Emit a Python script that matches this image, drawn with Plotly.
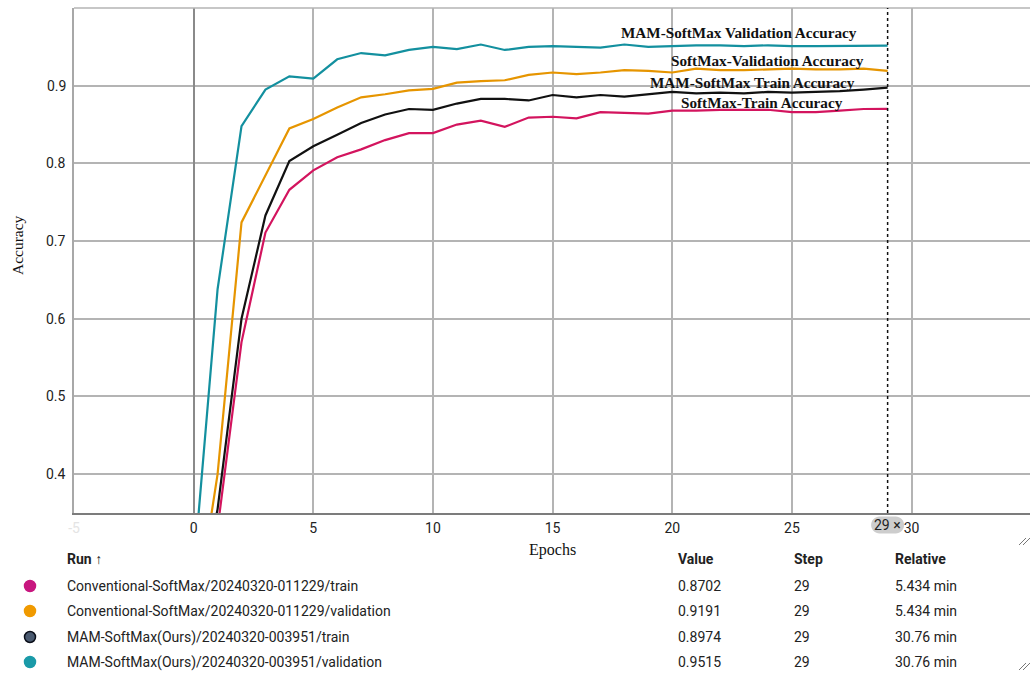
import plotly.graph_objects as go

# ---- data -------------------------------------------------------------
epochs = list(range(30))

conv_train = [0.18, 0.33, 0.570, 0.711, 0.766, 0.791, 0.808, 0.818, 0.830, 0.839,
              0.839, 0.850, 0.855, 0.847, 0.859, 0.860, 0.858, 0.866, 0.865, 0.864,
              0.868, 0.868, 0.869, 0.869, 0.869, 0.866, 0.866, 0.868, 0.870, 0.8702]
conv_val = [0.20, 0.40, 0.724, 0.785, 0.845, 0.857, 0.872, 0.885, 0.889, 0.894,
            0.896, 0.904, 0.906, 0.907, 0.914, 0.917, 0.915, 0.917, 0.920, 0.919,
            0.917, 0.922, 0.920, 0.920, 0.921, 0.922, 0.921, 0.921, 0.922, 0.9191]
mam_train = [0.20, 0.355, 0.600, 0.733, 0.803, 0.822, 0.837, 0.852, 0.863, 0.870,
             0.869, 0.877, 0.883, 0.883, 0.881, 0.888, 0.885, 0.888, 0.886, 0.889,
             0.892, 0.890, 0.891, 0.890, 0.892, 0.891, 0.892, 0.893, 0.895, 0.8974]
mam_val = [0.274, 0.638, 0.848, 0.895, 0.912, 0.909, 0.934, 0.942, 0.939, 0.946,
           0.950, 0.947, 0.953, 0.946, 0.950, 0.951, 0.950, 0.949, 0.953, 0.950,
           0.951, 0.952, 0.952, 0.951, 0.952, 0.951, 0.951, 0.951, 0.951, 0.9515]

run_names = ["Conventional-SoftMax/20240320-011229/train",
             "Conventional-SoftMax/20240320-011229/validation",
             "MAM-SoftMax(Ours)/20240320-003951/train",
             "MAM-SoftMax(Ours)/20240320-003951/validation"]
series = [conv_train, conv_val, mam_train, mam_val]
line_labels = ["SoftMax-Train Accuracy", "SoftMax-Validation Accuracy",
               "MAM-SoftMax Train Accuracy", "MAM-SoftMax Validation Accuracy"]
relative_times = ["5.434 min", "5.434 min", "30.76 min", "30.76 min"]
cursor_step = 29

x_ticks = [-5, 0, 5, 10, 15, 20, 25, 30]
y_ticks = [0.4, 0.5, 0.6, 0.7, 0.8, 0.9]

# ---- styling ----------------------------------------------------------
line_colors = ["#d3145e", "#e69500", "#111111", "#13909f"]
dot_colors = ["#c8177f", "#f09a00", "#4a5a70", "#1a9aa8"]
dot_borders = ["#c8177f", "#f09a00", "#0b0f1a", "#1a9aa8"]

W_FIG, H_FIG = 1030, 675
L, T, PW, PH = 74, 8, 956, 505


def pxx(x):
    return (x - L) / PW


def pxy(y):
    return (T + PH - y) / PH


SANS = "Roboto, Arial, sans-serif"
SERIF = "Liberation Serif, Times New Roman, serif"
TXT = "#222222"

fig = go.Figure()
for vals, col, name in zip(series, line_colors, run_names):
    fig.add_trace(go.Scatter(x=epochs, y=vals, mode="lines", name=name,
                             line=dict(color=col, width=2.2), showlegend=False))

tick_text = []
for t in x_ticks:
    if t < 0:
        tick_text.append(f"<span style='color:#e4e4e4'>{t}</span>")
    else:
        tick_text.append(str(t))

fig.update_layout(
    width=W_FIG, height=H_FIG,
    margin=dict(l=L, r=0, t=T, b=H_FIG - T - PH),
    paper_bgcolor="white", plot_bgcolor="white",
    font=dict(family=SANS, size=14, color=TXT),
    showlegend=False,
    xaxis=dict(range=[-5, 34.95], tickvals=x_ticks, ticktext=tick_text,
               showgrid=True, gridcolor="#b4b4b4", gridwidth=1.5,
               zeroline=True, zerolinecolor="#8a8a8a", zerolinewidth=2,
               showline=True, linecolor="#7c7c7c", linewidth=2,
               ticks="", ticklabelstandoff=1,
               tickfont=dict(family=SANS, size=14, color=TXT)),
    yaxis=dict(range=[0.35, 1.0], tickvals=y_ticks, showticklabels=False,
               showgrid=True, gridcolor="#b4b4b4", gridwidth=1.5,
               zeroline=False, showline=True, linecolor="#a8a8a8", linewidth=1.5,
               ticks=""),
)

shapes = []
# top border of the plot area
shapes.append(dict(type="line", xref="paper", yref="paper", x0=0, x1=1, y0=1, y1=1,
                   line=dict(color="#b4b4b4", width=1.5)))
# hover cursor at the selected step
shapes.append(dict(type="line", xref="x", yref="paper", x0=cursor_step, x1=cursor_step,
                   y0=0, y1=1, line=dict(color="#111111", width=1.5, dash="dot")))
# rounded chip behind the cursor step label
chip_w, chip_h = 16.5, 8.5
k = chip_h * 0.55
chip_path = (f"M {-chip_w + chip_h},{-chip_h} L {chip_w - chip_h},{-chip_h} "
             f"C {chip_w - chip_h + k},{-chip_h} {chip_w},{-k} {chip_w},0 "
             f"C {chip_w},{k} {chip_w - chip_h + k},{chip_h} {chip_w - chip_h},{chip_h} "
             f"L {-chip_w + chip_h},{chip_h} "
             f"C {-chip_w + chip_h - k},{chip_h} {-chip_w},{k} {-chip_w},0 "
             f"C {-chip_w},{-k} {-chip_w + chip_h - k},{-chip_h} {-chip_w + chip_h},{-chip_h} Z")
shapes.append(dict(type="path", xref="x", yref="paper", xsizemode="pixel", ysizemode="pixel",
                   xanchor=cursor_step, yanchor=pxy(525), path=chip_path,
                   fillcolor="#cdcdcd", line=dict(width=0), layer="above"))

# resize handles at the right edge
for cy in (541, 666):
    for off in (0, 4):
        shapes.append(dict(type="line", xref="paper", yref="paper",
                           x0=pxx(1019 + off), y0=pxy(cy + 4), x1=pxx(1026 + off), y1=pxy(cy - 3),
                           line=dict(color="#777777", width=1)))

annotations = []
# y tick labels, right-aligned a few pixels left of the plot
for v in y_ticks:
    annotations.append(dict(xref="paper", yref="y", x=pxx(68), y=v, text=f"{v:.1f}",
                            showarrow=False, xanchor="right", yanchor="middle",
                            font=dict(family=SANS, size=14, color=TXT)))
# cursor step label and faded edge tick
annotations.append(dict(xref="x", yref="paper", x=cursor_step, y=pxy(525), text=f"{cursor_step} ×",
                        showarrow=False, xanchor="center", yanchor="middle",
                        font=dict(family=SANS, size=14, color=TXT)))
annotations.append(dict(xref="x", yref="paper", x=35, y=pxy(524), text="35",
                        showarrow=False, xanchor="center", yanchor="middle",
                        font=dict(family=SANS, size=14, color="#e4e4e4")))

# axis titles
annotations.append(dict(xref="paper", yref="paper", x=pxx(17), y=pxy(245), text="Accuracy",
                        textangle=-90, showarrow=False, xanchor="center", yanchor="middle",
                        font=dict(family=SERIF, size=15.5, color="#111111")))
annotations.append(dict(xref="paper", yref="paper", x=pxx(552), y=pxy(550), text="Epochs",
                        showarrow=False, xanchor="center", yanchor="middle",
                        font=dict(family=SERIF, size=16, color="#111111")))

# line labels
label_pos = [(762, 102), (767, 61), (752, 82), (739, 32)]
for text, (lx, ly) in zip(line_labels, label_pos):
    annotations.append(dict(xref="paper", yref="paper", x=pxx(lx), y=pxy(ly),
                            text=f"<b>{text}</b>", showarrow=False,
                            xanchor="center", yanchor="middle",
                            font=dict(family=SERIF, size=15.2, color="#111111")))

# run table
header_y = 559
row_ys = [586, 611, 637, 662]
col_x = {"run": 65, "value": 676, "step": 792, "rel": 893}
for key, label in (("run", "Run ↑"), ("value", "Value"), ("step", "Step"), ("rel", "Relative")):
    annotations.append(dict(xref="paper", yref="paper", x=pxx(col_x[key]), y=pxy(header_y),
                            text=f"<b>{label}</b>", showarrow=False,
                            xanchor="left", yanchor="middle",
                            font=dict(family=SANS, size=14, color=TXT)))

for i, (name, vals, rel) in enumerate(zip(run_names, series, relative_times)):
    ry = row_ys[i]
    cells = [(col_x["run"], name), (col_x["value"], f"{vals[cursor_step]:.4f}"),
             (col_x["step"], str(epochs[cursor_step])), (col_x["rel"], rel)]
    for cx, txt in cells:
        annotations.append(dict(xref="paper", yref="paper", x=pxx(cx), y=pxy(ry),
                                text=txt, showarrow=False, xanchor="left", yanchor="middle",
                                font=dict(family=SANS, size=14, color=TXT)))
    r = 5.5
    shapes.append(dict(type="circle", xref="paper", yref="paper",
                       x0=pxx(30 - r), x1=pxx(30 + r), y0=pxy(ry + r), y1=pxy(ry - r),
                       fillcolor=dot_colors[i], line=dict(color=dot_borders[i], width=1.5)))

fig.update_layout(shapes=shapes, annotations=annotations)
fig.write_html("out.html")
